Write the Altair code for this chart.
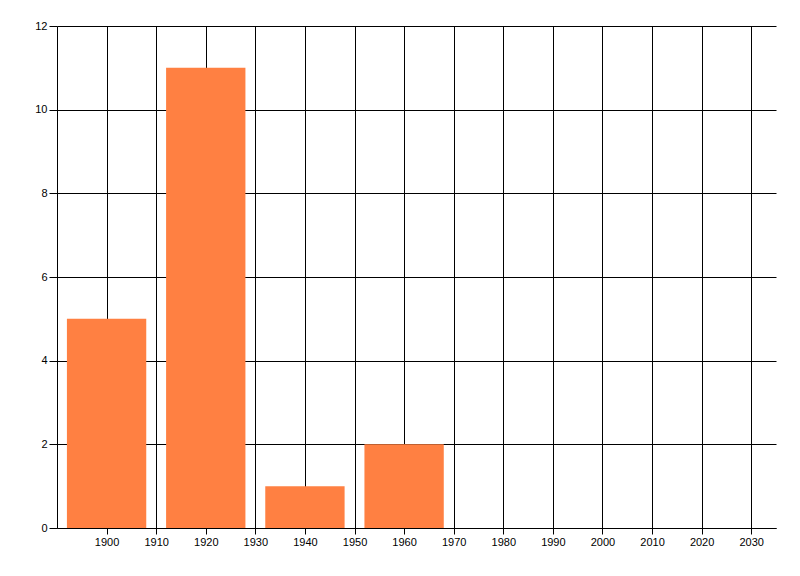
import altair as alt
import pandas as pd

years = [1900, 1920, 1940, 1960]
counts = [5, 11, 1, 2]
bar_half_width = 8
x_ticks = list(range(1900, 2031, 10))
y_ticks = [0, 2, 4, 6, 8, 10, 12]

df = pd.DataFrame({
    "year": years,
    "count": counts,
})
df["start"] = df["year"] - bar_half_width
df["end"] = df["year"] + bar_half_width
df["base"] = 0

FONT = "Liberation Sans"

chart = alt.Chart(df).mark_bar(color="#FF8042", opacity=1).encode(
    x=alt.X("start:Q",
            scale=alt.Scale(domain=[1890, 2035], nice=False, zero=False, padding=0),
            axis=alt.Axis(values=x_ticks, format="d", title=None, grid=True,
                          gridColor="black", gridOpacity=1, gridWidth=1,
                          domainColor="black", domainWidth=1,
                          tickColor="black", tickSize=6, tickWidth=1,
                          labelFont=FONT, labelFontSize=11, labelColor="black",
                          labelPadding=2, labelFlush=False)),
    x2="end:Q",
    y=alt.Y("count:Q",
            scale=alt.Scale(domain=[0, 12], nice=False, padding=0),
            axis=alt.Axis(values=y_ticks, title=None, grid=True,
                          gridColor="black", gridOpacity=1, gridWidth=1,
                          domainColor="black", domainWidth=1,
                          tickColor="black", tickSize=8, tickWidth=1,
                          labelFont=FONT, labelFontSize=11, labelColor="black",
                          labelPadding=2)),
    y2="base:Q",
).properties(
    width=719,
    height=502,
    autosize=alt.AutoSizeParams(type="none"),
    padding={"left": 49, "top": 18, "right": 10, "bottom": 30},
).configure_view(stroke=None)

chart.save("out.html", embed_options={"renderer": "svg", "actions": False})
